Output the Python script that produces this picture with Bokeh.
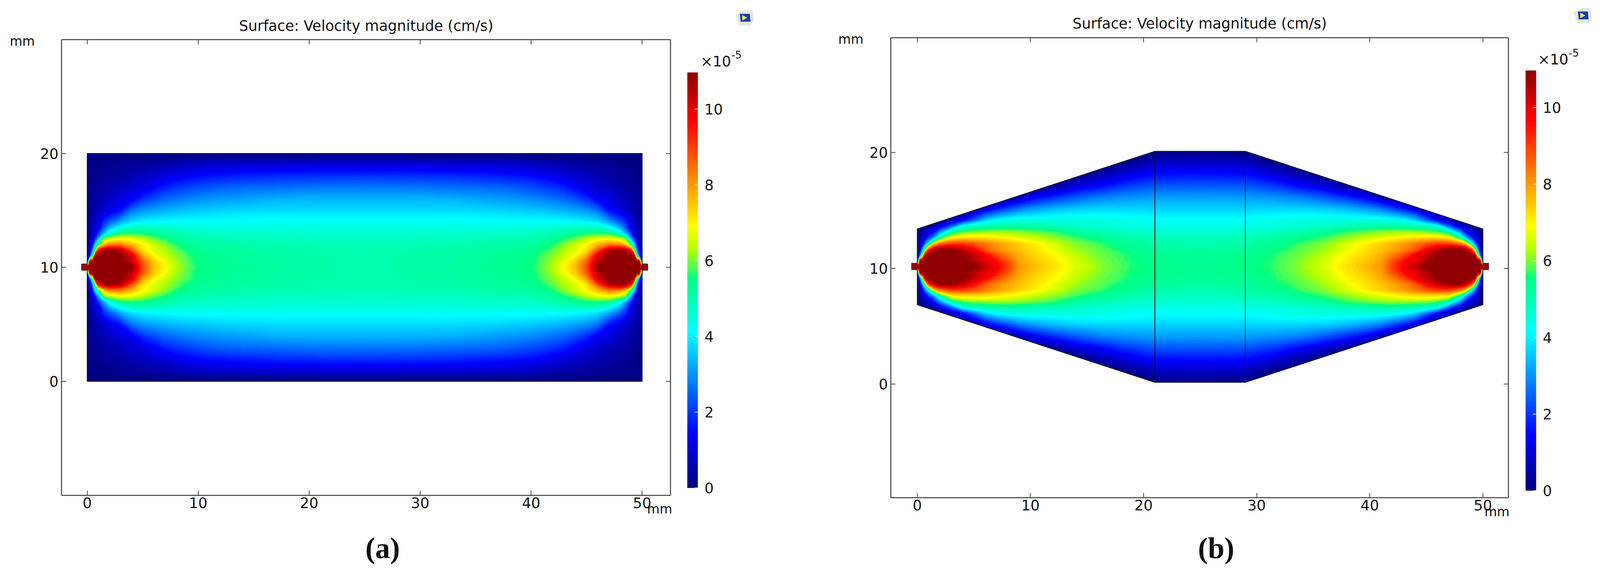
from bokeh.embed import file_html
from bokeh.layouts import row
from bokeh.models import (ColorBar, CustomJSTickFormatter, FixedTicker, Label,
                          LinearAxis, LinearColorMapper, PolyAnnotation)
from bokeh.plotting import figure
from bokeh.resources import INLINE
import numpy as np

# velocity magnitude in 1e-5 cm/s
# one quarter of each chamber, the other three are mirror images
y_nodes = [10, 10.25, 10.5, 11, 11.5, 12, 12.5, 13, 13.5, 14, 15, 16, 17, 18, 19, 20]

a_x_nodes = [0, .25, .5, .75, 1, 1.5, 2, 3, 4, 5, 6, 7, 8, 9, 10, 11, 12, 14, 17, 21, 25]
a_10 = [10.97, 10.97, 10.97, 10.97, 10.97, 10.97, 10.97, 10.97, 10.97, 8.9, 7.6, 6.95, 6.3, 5.9, 5.55, 5.45, 5.4, 5.3, 5.2, 5.1, 5.05]
a_10_25 = [6, 10.97, 10.97, 10.97, 10.97, 10.97, 10.97, 10.97, 10.9, 8.85, 7.55, 6.9, 6.3, 5.88, 5.53, 5.44, 5.38, 5.3, 5.2, 5.1, 5.05]
a_10_5 = [0, 10.97, 10.97, 10.97, 10.97, 10.97, 10.97, 10.97, 10.4, 8.7, 7.5, 6.8, 6.25, 5.82, 5.5, 5.42, 5.36, 5.27, 5.18, 5.1, 5.05]
a_11 = [0, 1.8, 5.5, 10.9, 10.97, 10.97, 10.97, 10.97, 10.2, 8.0, 7.0, 6.5, 6.1, 5.8, 5.45, 5.38, 5.33, 5.25, 5.17, 5.1, 5.05]
a_11_5 = [0, 0.9, 2.9, 6.2, 9.7, 10.6, 10.97, 10.5, 8.9, 7.2, 6.65, 6.3, 5.9, 5.55, 5.35, 5.3, 5.25, 5.2, 5.12, 5.02, 5.0]
a_12 = [0, 0.7, 1.6, 4.1, 5.3, 7.5, 8.25, 8.4, 7.7, 7.0, 6.5, 6.1, 5.65, 5.4, 5.25, 5.2, 5.15, 5.1, 5.05, 4.97, 4.95]
a_12_5 = [0, 0.5, 1.0, 1.9, 3.3, 6.1, 6.5, 6.9, 6.75, 6.4, 5.95, 5.6, 5.3, 5.1, 5.0, 4.97, 4.95, 4.9, 4.85, 4.8, 4.8]
a_13 = [0, 0.4, 0.8, 1.2, 1.9, 3.3, 4.5, 5.5, 5.6, 5.55, 5.35, 5.2, 5.05, 4.9, 4.82, 4.78, 4.75, 4.72, 4.7, 4.67, 4.65]
a_13_5 = [0, 0.35, 0.7, 0.9, 1.1, 2.4, 3.3, 4.3, 4.8, 4.95, 4.8, 4.7, 4.62, 4.55, 4.5, 4.5, 4.5, 4.5, 4.48, 4.45, 4.45]
a_14 = [0, 0.3, 0.6, 0.8, 1.0, 1.85, 2.35, 3.2, 3.8, 4.0, 4.1, 4.15, 4.18, 4.2, 4.2, 4.2, 4.2, 4.22, 4.25, 4.25, 4.25]
a_15 = [0, 0.2, 0.4, 0.55, 0.65, 0.9, 1.1, 1.55, 2.6, 3.0, 3.15, 3.3, 3.4, 3.5, 3.55, 3.6, 3.65, 3.7, 3.75, 3.75, 3.75]
a_16 = [0, 0.15, 0.3, 0.4, 0.45, 0.6, 0.8, 1.1, 1.25, 1.9, 2.25, 2.5, 2.65, 2.8, 2.9, 3.0, 3.05, 3.15, 3.3, 3.35, 3.35]
a_17 = [0, 0.1, 0.2, 0.25, 0.3, 0.4, 0.5, 0.7, 0.9, 1.1, 1.38, 1.75, 1.95, 2.1, 2.25, 2.35, 2.45, 2.55, 2.6, 2.7, 2.7]
a_18 = [0, 0.06, 0.1, 0.14, 0.18, 0.25, 0.3, 0.4, 0.55, 0.75, 0.9, 1.05, 1.2, 1.38, 1.5, 1.6, 1.65, 1.75, 1.85, 1.92, 1.95]
a_19 = [0, 0.03, 0.05, 0.06, 0.08, 0.12, 0.15, 0.2, 0.3, 0.35, 0.42, 0.5, 0.6, 0.7, 0.8, 0.85, 0.88, 0.92, 0.97, 1, 1]
a_20 = [0] * 21

b_x_nodes = [0, .25, .5, .75, 1, 1.5, 2, 3, 4, 5, 6, 7, 8, 9, 10, 11, 12, 13, 14, 15, 16, 17, 18, 19, 20, 21, 25]
b_10 = [10.97, 10.97, 10.97, 10.97, 10.97, 10.97, 10.97, 10.97, 10.97, 10.97, 10.3, 9.9, 9.0, 8.05, 7.7, 7.45, 7.2, 6.98, 6.6, 6.4, 6.15, 5.95, 5.8, 5.65, 5.55, 5.5, 5.4]
b_10_25 = [6, 10.97, 10.97, 10.97, 10.97, 10.97, 10.97, 10.97, 10.97, 10.9, 10.2, 9.8, 8.95, 8.03, 7.68, 7.42, 7.18, 6.95, 6.55, 6.38, 6.12, 5.93, 5.78, 5.62, 5.52, 5.48, 5.38]
b_10_5 = [0, 10.97, 10.97, 10.97, 10.97, 10.97, 10.97, 10.97, 10.97, 10.6, 10.0, 9.6, 8.8, 7.95, 7.6, 7.35, 7.1, 6.85, 6.5, 6.32, 6.08, 5.9, 5.75, 5.58, 5.48, 5.45, 5.35]
b_11 = [0, 2.5, 7.0, 10.9, 10.97, 10.97, 10.97, 10.97, 10.97, 10.4, 9.85, 8.95, 8.3, 7.8, 7.45, 7.2, 7.0, 6.7, 6.4, 6.2, 6.0, 5.85, 5.72, 5.55, 5.45, 5.4, 5.3]
b_11_5 = [0, 0.9, 3.6, 6.5, 9.0, 10.5, 10.97, 10.97, 10.4, 9.75, 8.75, 8.2, 7.85, 7.55, 7.3, 7.05, 6.75, 6.45, 6.2, 6.05, 5.9, 5.72, 5.55, 5.42, 5.35, 5.28, 5.18]
b_12 = [0, 0.6, 1.4, 3.0, 4.3, 7.3, 8.4, 9.0, 9.1, 8.8, 8.4, 8.0, 7.7, 7.4, 7.15, 6.9, 6.6, 6.3, 6.05, 5.9, 5.78, 5.55, 5.42, 5.32, 5.25, 5.1, 5.0]
b_12_5 = [0, 0.4, 0.8, 1.3, 1.9, 3.3, 5.1, 7.0, 7.25, 7.3, 7.25, 7.1, 6.9, 6.7, 6.5, 6.3, 6.1, 5.95, 5.75, 5.55, 5.4, 5.28, 5.18, 5.08, 5.0, 4.95, 4.85]
b_13 = [0, 0.3, 0.5, 0.7, 1.0, 1.5, 3.0, 5.1, 5.8, 6.05, 6.15, 6.2, 6.2, 6.1, 6.0, 5.9, 5.75, 5.5, 5.3, 5.15, 5.05, 4.95, 4.88, 4.8, 4.75, 4.7, 4.65]
b_13_5 = [0, 0, 0.1, 0.2, 0.3, 0.6, 1.0, 2.4, 4.4, 4.9, 5.05, 5.15, 5.2, 5.15, 5.1, 5.02, 4.95, 4.85, 4.75, 4.7, 4.62, 4.55, 4.5, 4.45, 4.42, 4.4, 4.4]
b_14 = [0, 0, 0, 0, 0, 0, 0.2, 0.8, 1.42, 2.6, 3.7, 4.25, 4.4, 4.5, 4.5, 4.5, 4.5, 4.5, 4.5, 4.5, 4.45, 4.42, 4.4, 4.35, 4.3, 4.2, 4.2]
b_15 = [0, 0, 0, 0, 0, 0, 0, 0, 0, 0.1, 1.0, 1.65, 2.2, 2.7, 3.0, 3.2, 3.4, 3.5, 3.6, 3.65, 3.7, 3.7, 3.7, 3.7, 3.7, 3.65, 3.65]
b_16 = [0, 0, 0, 0, 0, 0, 0, 0, 0, 0, 0, 0, 0.1, 0.6, 1.15, 1.55, 1.85, 2.1, 2.35, 2.55, 2.75, 2.85, 2.95, 3.0, 3.05, 3.1, 3.1]
b_17 = [0, 0, 0, 0, 0, 0, 0, 0, 0, 0, 0, 0, 0, 0, 0, 0.05, 0.3, 0.6, 0.95, 1.2, 1.4, 1.65, 1.9, 2.05, 2.2, 2.3, 2.35]
b_18 = [0, 0, 0, 0, 0, 0, 0, 0, 0, 0, 0, 0, 0, 0, 0, 0, 0, 0, 0, 0.15, 0.4, 0.65, 0.9, 1.1, 1.3, 1.5, 1.55]
b_19 = [0, 0, 0, 0, 0, 0, 0, 0, 0, 0, 0, 0, 0, 0, 0, 0, 0, 0, 0, 0, 0, 0, 0.05, 0.2, 0.45, 0.75, 0.8]
b_20 = [0] * 27

quarter_a = [a_10, a_10_25, a_10_5, a_11, a_11_5, a_12, a_12_5, a_13, a_13_5, a_14, a_15, a_16, a_17, a_18, a_19, a_20]
quarter_b = [b_10, b_10_25, b_10_5, b_11, b_11_5, b_12, b_12_5, b_13, b_13_5, b_14, b_15, b_16, b_17, b_18, b_19, b_20]

# chamber outlines in mm
a_outline_x = [0, 50, 50, 0, 0]
a_outline_y = [0, 0, 20, 20, 0]
a_dividers = []
b_outline_x = [0, 21, 29, 50, 50, 29, 21, 0, 0]
b_outline_y = [6.85, 0.15, 0.15, 6.85, 13.4, 20.1, 20.1, 13.4, 6.85]
b_dividers = [21, 29]

x_ticks = [0, 10, 20, 30, 40, 50]
y_ticks = [0, 10, 20]
bar_ticks = [0, 2, 4, 6, 8, 10]
bar_max = 10.97

# colour scale
bar_stops = [0, 1.42, 4.12, 5.57, 5.75, 6.3, 6.9, 9.7, 10.0, 10.97]
bar_colors = [(0, 0, 128), (0, 0, 255), (0, 255, 255), (0, 255, 128), (64, 255, 96),
              (180, 255, 0), (255, 255, 0), (255, 0, 0), (232, 0, 0), (139, 0, 0)]

FONT = "DejaVu Sans"
FRAME = "#5a5a5a"
INK = "#111111"
EMPTY = "return ''"

# the browser only shows about 4096 px of the width, so the page is squeezed to fit
SQUEEZE = 4096 / 4193


def color_at(v):
    rgb = [int(round(np.interp(v, bar_stops, [c[i] for c in bar_colors]))) for i in range(3)]
    return "#%02x%02x%02x" % tuple(rgb)


palette = [color_at(v) for v in np.linspace(0, bar_max, 256)]
levels = np.linspace(0, bar_max, 111)
band_colors = [color_at(v) for v in (levels[:-1] + levels[1:]) / 2]
line_colors = [color_at(v) for v in levels]
levels[0] = -0.01
levels[-1] = 11.5


def mirror(quarter, x_nodes, shift):
    q = np.array(quarter, dtype=float)
    half = np.vstack([q[::-1], q[1:]])
    z = np.hstack([half, half[:, -2::-1]])
    y = np.array(y_nodes, dtype=float)
    x = np.array(x_nodes, dtype=float)
    return np.concatenate([x, 50 - x[-2::-1]]), np.concatenate([20 - y[::-1], y[1:]]) + shift, z


def panel(quarter, x_nodes, outline_x, outline_y, dividers, caption, page, o):
    # o holds where things sit on the reference, in px
    left, right = page
    top, bottom = 8, 1467
    sx, sy = o["sx"], o["sy"]
    mx = lambda px: (px - o["x0"]) / sx
    my = lambda py: (o["y0"] - py) / sy

    mapper = LinearColorMapper(palette=palette, low=0, high=bar_max)
    p = figure(output_backend="svg", toolbar_location=None,
               frame_width=round((right - left) * SQUEEZE), frame_height=bottom - top,
               x_range=(mx(left), mx(right)), y_range=(my(bottom), my(top)),
               min_border=0)
    p.grid.visible = False
    p.outline_line_color = None

    x, y, z = mirror(quarter, x_nodes, o["shift"])
    p.contour(x, y, z, levels=list(levels), fill_color=band_colors, line_color=line_colors, line_width=1.5)

    # white out everything beyond the chamber
    p.multi_polygons(xs=[[[[-1, 51, 51, -1], outline_x[:-1]]]], ys=[[[[-1, -1, 22, 22], outline_y[:-1]]]],
                     fill_color="white", line_color=None)
    p.line(outline_x, outline_y, line_color="#101020", line_width=2)
    for d in dividers:
        p.line([d, d], [min(outline_y), max(outline_y)], line_color="#101020", line_width=2)

    # inlet and outlet stubs
    p.quad(left=[-0.5, 50], right=[0, 50.5], bottom=[9.75 + o["shift"]] * 2, top=[10.3 + o["shift"]] * 2,
           fill_color="#a00000", line_color="#502020", line_width=2)

    frame_x = (mx(o["frame"][0]), mx(o["frame"][1]))
    frame_y = (my(o["frame"][3]), my(o["frame"][2]))
    p.xaxis.ticker = FixedTicker(ticks=x_ticks)
    p.yaxis.ticker = FixedTicker(ticks=y_ticks)
    p.xaxis.fixed_location = frame_y[0]
    p.yaxis.fixed_location = frame_x[0]
    top_axis = LinearAxis(ticker=FixedTicker(ticks=x_ticks), formatter=CustomJSTickFormatter(code=EMPTY),
                          fixed_location=frame_y[1])
    right_axis = LinearAxis(ticker=FixedTicker(ticks=y_ticks), formatter=CustomJSTickFormatter(code=EMPTY),
                            fixed_location=frame_x[1])
    p.add_layout(top_axis, "above")
    p.add_layout(right_axis, "right")
    for ax in p.xaxis:
        ax.bounds = frame_x
    for ax in p.yaxis:
        ax.bounds = frame_y
    for ax in p.axis:
        ax.axis_line_color = FRAME
        ax.axis_line_width = 3
        ax.major_tick_in = 12
        ax.major_tick_out = 0
        ax.major_tick_line_color = "#444444"
        ax.major_tick_line_width = 2
        ax.minor_tick_line_color = None
        ax.major_label_text_font = FONT
        ax.major_label_text_font_size = "37px"
        ax.major_label_text_color = INK
    p.xaxis[0].major_label_standoff = 14
    p.yaxis[0].major_label_standoff = 8

    bx, by, bh = o["bar"]
    bar = ColorBar(color_mapper=mapper, ticker=FixedTicker(ticks=bar_ticks),
                   width=27, height=bh, location=(round((bx - left) * SQUEEZE), bottom - by - bh),
                   padding=0, margin=0, label_standoff=17,
                   major_tick_line_color="#ffdddd", major_tick_line_width=2, major_tick_in=8,
                   minor_tick_line_color=None, bar_line_color=None, border_line_color=None,
                   background_fill_alpha=0,
                   major_label_text_font=FONT, major_label_text_font_size="37px",
                   major_label_text_color=INK)
    p.add_layout(bar, "center")

    def text(t, px, py, size_px, font=FONT, baseline="middle", align="left", style="normal"):
        p.add_layout(Label(x=mx(px), y=my(py), text=t, text_font=font, text_font_size=size_px,
                           text_color=INK, text_baseline=baseline, text_align=align,
                           text_font_style=style))

    text("Surface: Velocity magnitude (cm/s)", o["title"][0], o["title"][1], "37px", align="center")
    text("mm", o["mm_top"][0], o["mm_top"][1], "33px")
    text("mm", o["mm_bottom"][0], o["mm_bottom"][1], "33px")
    text("\u00d710", o["power"][0], o["power"][1], "37px", baseline="alphabetic")
    text("-5", o["power"][0] + 81, o["power"][1] - 18, "26px", baseline="alphabetic")
    text(caption, o["caption"][0], o["caption"][1], "76px", font="Liberation Serif",
         align="center", style="bold")

    # small viewer icon next to the title
    def box(xs, ys, color):
        p.add_layout(PolyAnnotation(xs=[mx(o["icon"][0] + v) for v in xs],
                                    ys=[my(o["icon"][1] + v) for v in ys],
                                    fill_color=color, fill_alpha=1, line_color=None))
    box([-24, -2, 20, 24, 14, -14, -20], [-8, -19, -20, 8, 20, 20, 6], "#e6e6e6")
    box([-13, 13, 15, -11], [-10, -10, 10, 10], "#0c3fb0")
    box([-7, 7, -7], [-7, 0, 7], "#f5e65a")
    return p


left_panel = panel(quarter_a, a_x_nodes, a_outline_x, a_outline_y, a_dividers, "(a)", (8, 2100), {
    "sx": 29.08, "sy": 29.175, "x0": 236, "y0": 984, "shift": 0,
    "frame": (169, 1764, 109, 1276), "bar": (1809, 193, 1064),
    "title": (967, 74), "mm_top": (33, 113), "mm_bottom": (1703, 1311),
    "power": (1843, 165), "caption": (1010, 1410), "icon": (1959, 53)})
right_panel = panel(quarter_b, b_x_nodes, b_outline_x, b_outline_y, b_dividers, "(b)", (2100, 4185), {
    "sx": 29.64, "sy": 29.65, "x0": 2411, "y0": 991, "shift": 0.13,
    "frame": (2342, 3960, 104, 1282), "bar": (4005, 188, 1076),
    "title": (3151, 68), "mm_top": (2204, 108), "mm_bottom": (3897, 1318),
    "power": (4037, 160), "caption": (3194, 1410), "icon": (4155, 47)})

page = row(left_panel, right_panel, spacing=0)
open("out.html", "w").write(file_html(page, INLINE))
